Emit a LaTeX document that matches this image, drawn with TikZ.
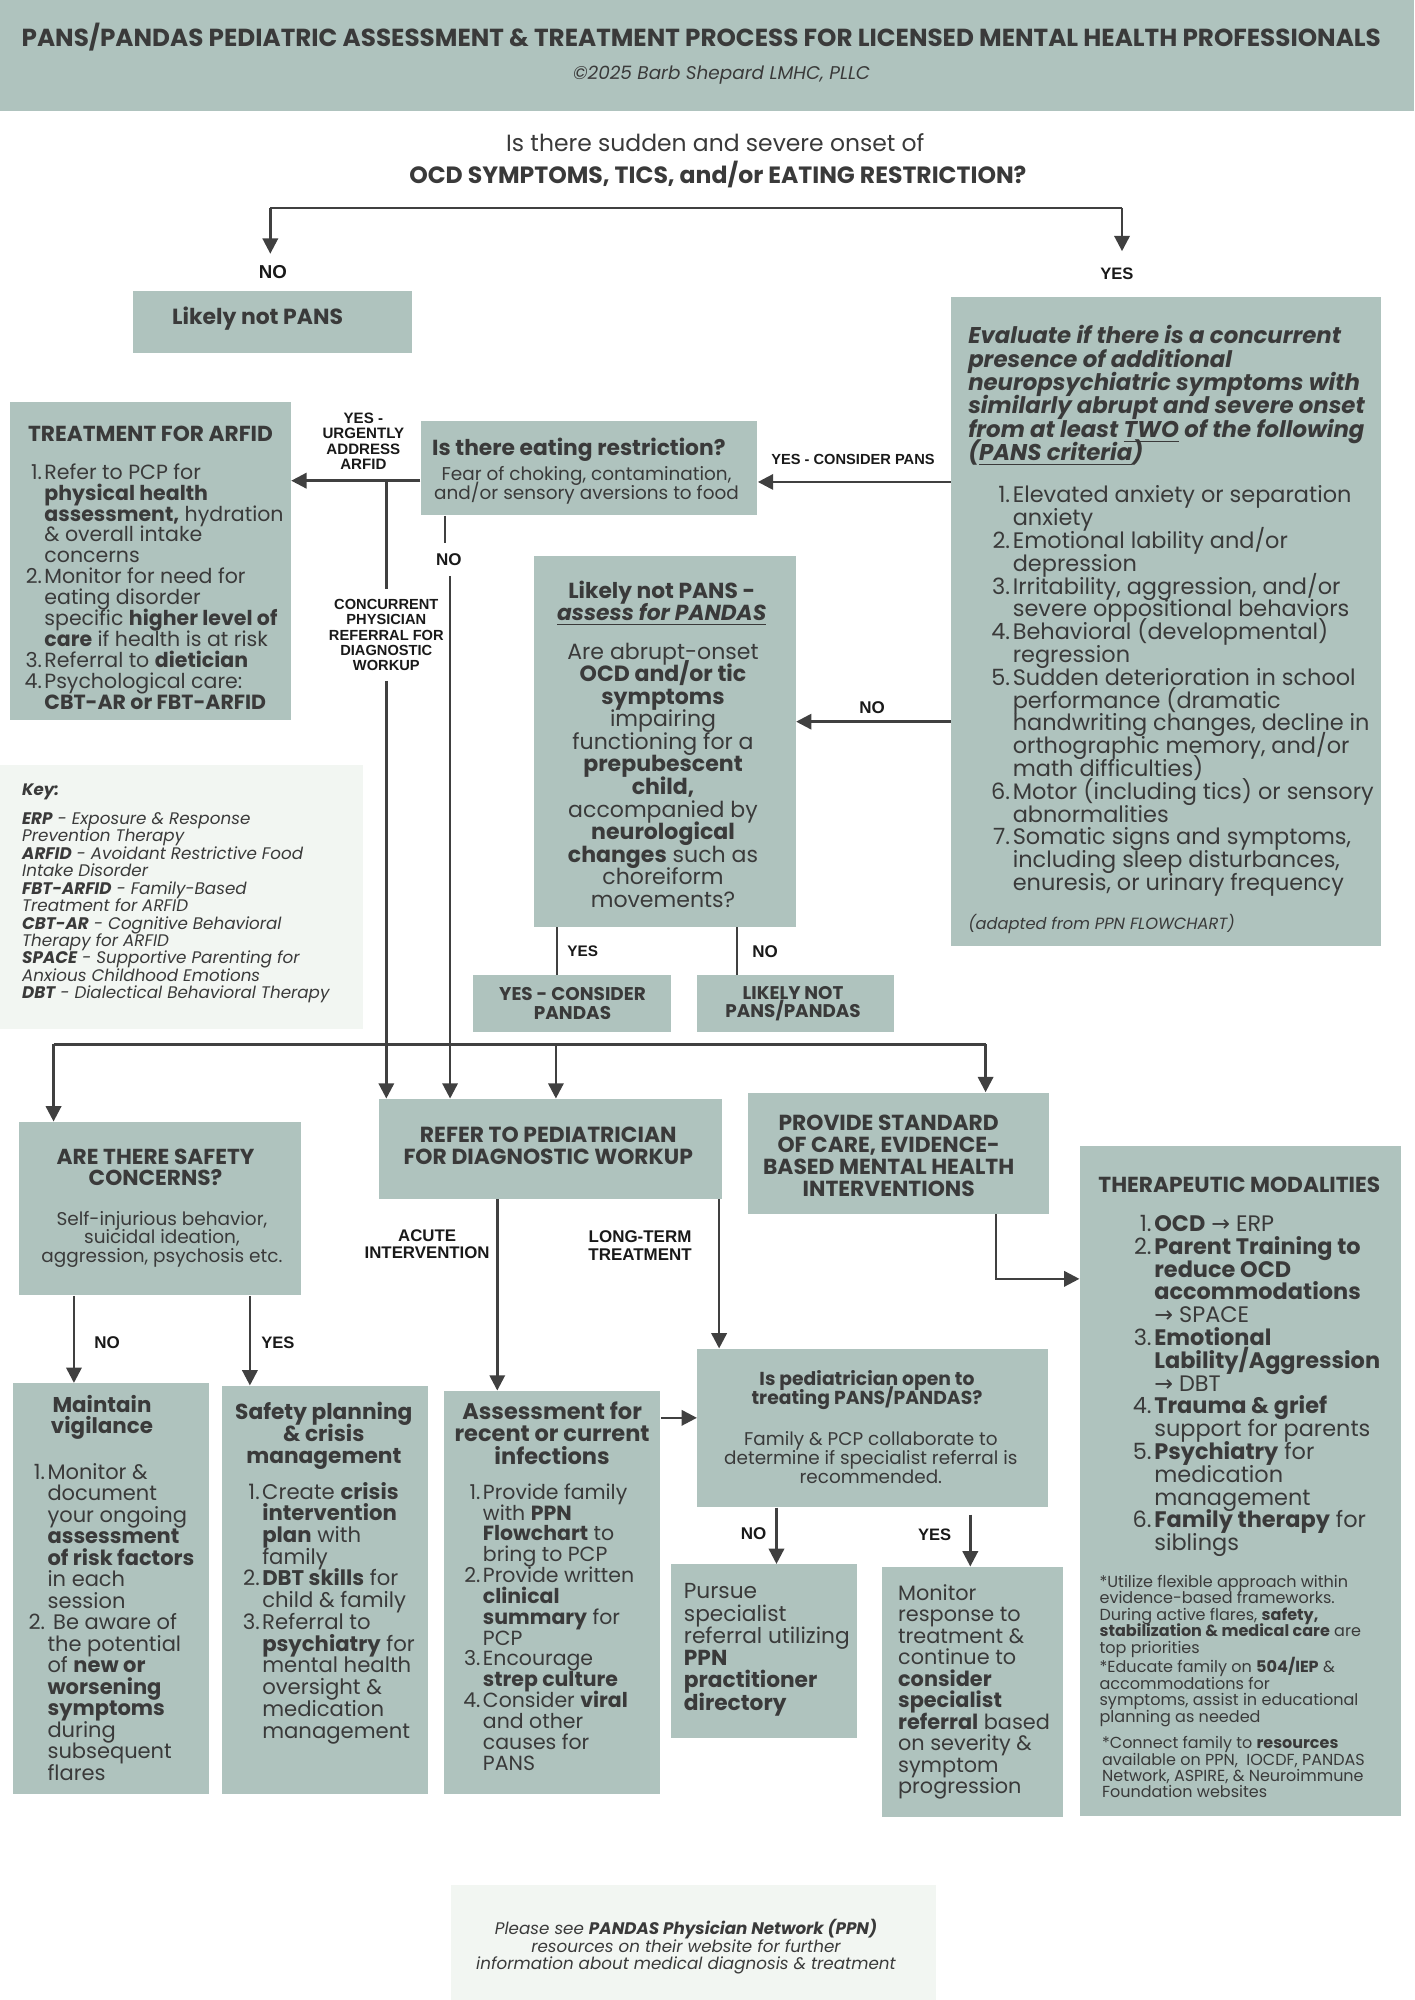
\documentclass[tikz,border=0pt]{standalone}
\usepackage{fontspec}
\setmainfont{Poppins}
\newfontfamily\labfont{Liberation Sans}
\newfontfamily\djv{DejaVu Sans}
\usepackage{graphicx}
\usetikzlibrary{arrows.meta,fit}
\definecolor{boxc}{RGB}{175,195,190}
\definecolor{keyc}{RGB}{242,246,242}
\definecolor{txtc}{RGB}{58,58,58}
\definecolor{labc}{RGB}{25,25,25}
\definecolor{linec}{RGB}{64,64,64}
\newlength\pxu \setlength\pxu{0.5pt}
\newcommand\fs[2]{\fontsize{#1}{#2}\selectfont}
\newcommand\rb[2]{\resizebox{#1\pxu}{!}{#2}}
\newcommand\Lc[1]{\vbox{\lineskiplimit=-100pt\lineskip=0pt\let\\\cr\halign{\hfil##\hfil\cr#1\crcr}}}
\newcommand\Ll[1]{\vbox{\lineskiplimit=-100pt\lineskip=0pt\let\\\cr\halign{##\hfil\cr#1\crcr}}}
\newcommand\Ln[1]{\vbox{\lineskiplimit=-100pt\lineskip=0pt\let\\\cr\halign{\hfil##\hskip.12em&##\hfil\cr#1\crcr}}}
\newcommand\ar{{\djv\char"2192}}
\begin{document}
\begin{tikzpicture}[x=0.5pt,y=-0.5pt,
  box/.style={fill=boxc,draw=none,inner sep=0pt},
  lbox/.style={fill=keyc,draw=none,inner sep=0pt},
  t/.style={inner sep=0pt,text=txtc},
  lb/.style={inner sep=2pt,text=labc,font=\labfont\bfseries},
  conn/.style={draw=linec,line width=1pt},
  arr/.style={conn,-{Triangle[width=6pt,length=6pt]}}]
\useasboundingbox (0,0) rectangle (1109,1568.6);
% ---------- boxes
\node[box,fit={(0,0) (1109,87)}] (head) {};
\node[box,fit={(104,228) (323,277)}] (notB) {};
\node[box,fit={(746,233) (1083,742)}] (evalB) {};
\node[box,fit={(330,330) (594,404)}] (eatB) {};
\node[box,fit={(8,315) (228,565)}] (arfidB) {};
\node[box,fit={(419,436) (624,727)}] (pandB) {};
\node[box,fit={(371,765) (526,809)}] (consB) {};
\node[box,fit={(547,765) (701,809)}] (lnB) {};
\node[lbox,fit={(0,600) (285,807)}] (keyB) {};
\node[box,fit={(15,880) (236,1016)}] (safeB) {};
\node[box,fit={(297,862) (566,940)}] (refB) {};
\node[box,fit={(587,857) (823,952)}] (provB) {};
\node[box,fit={(847,899) (1099,1424)}] (therB) {};
\node[box,fit={(10,1085) (164,1407)}] (mainB) {};
\node[box,fit={(174,1087) (336,1407)}] (planB) {};
\node[box,fit={(348,1091) (518,1407)}] (assB) {};
\node[box,fit={(547,1058) (822,1182)}] (pedB) {};
\node[box,fit={(526,1227) (672,1363)}] (purB) {};
\node[box,fit={(692,1229) (834,1425)}] (monB) {};
\node[lbox,fit={(354,1478) (734,1568.6)}] (footB) {};
% ---------- header texts
\node[t] (title) at (550,29) {\rb{1066}{\fs{9}{10}\bfseries PANS/PANDAS PEDIATRIC ASSESSMENT \& TREATMENT PROCESS FOR LICENSED MENTAL HEALTH PROFESSIONALS}};
\node[t] (sub) at (566,59) {\rb{233}{\fs{7}{8}\itshape ©2025 Barb Shepard LMHC, PLLC}};
\node[t] (q1) at (561,112) {\rb{328}{\fs{9}{10}Is there sudden and severe onset of}};
\node[t] (q2) at (563,137) {\rb{484}{\fs{9}{10}\bfseries OCD SYMPTOMS, TICS, and/or EATING RESTRICTION?}};
% ---------- labels
\node[lb] (no1) at (214,213) {\rb{22}{NO}};
\node[lb] (yes1) at (876,215) {\rb{26}{YES}};
\node[lb] (yesp) at (669,360) {\rb{128}{YES - CONSIDER PANS}};
\node[lb] (urg) at (285,346) {\rb{64}{\fs{6}{6.2}\Lc{YES -\\URGENTLY\\ADDRESS\\ARFID}}};
\node[lb,inner sep=4pt] (conc) at (303,498) {\rb{90}{\fs{6}{6.15}\Lc{CONCURRENT\\PHYSICIAN\\REFERRAL FOR\\DIAGNOSTIC\\WORKUP}}};
\node[lb,inner sep=4pt] (no2) at (352,439) {\rb{20}{NO}};
\node[lb] (no3) at (684,555) {\rb{20}{NO}};
\node[lb] (yes2) at (457,746) {\rb{24}{YES}};
\node[lb] (no4) at (600,746) {\rb{20}{NO}};
\node[lb] (acute) at (335,976) {\rb{98}{\fs{6}{6.1}\Lc{ACUTE\\INTERVENTION}}};
\node[lb] (lterm) at (502,977) {\rb{81}{\fs{6}{6.3}\Lc{LONG-TERM\\TREATMENT}}};
\node[lb] (no5) at (84,1053) {\rb{20}{NO}};
\node[lb] (yes3) at (218,1053) {\rb{26}{YES}};
\node[lb] (no6) at (591,1203) {\rb{20}{NO}};
\node[lb] (yes4) at (733,1204) {\rb{26}{YES}};
% ---------- box texts
\node[t] (notT) at (202,250) {\rb{134}{\fs{8.5}{9}\bfseries Likely not PANS}};
\node[t,anchor=west] (evalT) at (759,310.5) {\rb{311}{\fs{8.6}{8.8}\bfseries\itshape\Ll{Evaluate if there is a concurrent\\presence of additional\\neuropsychiatric symptoms with\\similarly abrupt and severe onset\\from at least \underline{TWO} of the following\\(\underline{PANS criteria})}}};
\node[t,anchor=west] (evalL) at (777,542) {\rb{300}{\fs{8.6}{8.75}\Ln{1.&Elevated anxiety or separation\\&anxiety\\2.&Emotional lability and/or\\&depression\\3.&Irritability, aggression, and/or\\&severe oppositional behaviors\\4.&Behavioral (developmental)\\&regression\\5.&Sudden deterioration in school\\&performance (dramatic\\&handwriting changes, decline in\\&orthographic memory, and/or\\&math difficulties)\\6.&Motor (including tics) or sensory\\&abnormalities\\7.&Somatic signs and symptoms,\\&including sleep disturbances,\\&enuresis, or urinary frequency}}};
\node[t,anchor=west] (adapt) at (759,725) {\rb{209}{\fs{7}{8}\itshape (adapted from PPN FLOWCHART)}};
\node[t] (eatT) at (454,353) {\rb{230}{\fs{8.5}{9}\bfseries Is there eating restriction?}};
\node[t] (eatS) at (460,380.5) {\rb{239}{\fs{7.2}{7.5}\Lc{Fear of choking, contamination,\\and/or sensory aversions to food}}};
\node[t] (arfT) at (118,340) {\rb{192}{\fs{8.5}{9}\bfseries TREATMENT FOR ARFID}};
\node[t,anchor=west] (arfL) at (19,460) {\rb{203}{\fs{7.7}{7.85}\Ln{1.&Refer to PCP for\\&\textbf{physical health}\\&\textbf{assessment,} hydration\\&\& overall intake\\&concerns\\2.&Monitor for need for\\&eating disorder\\&specific \textbf{higher level of}\\&\textbf{care} if health is at risk\\3.&Referral to \textbf{dietician}\\4.&Psychological care:\\&\textbf{CBT-AR or FBT-ARFID}}}};
\node[t] (pandT) at (519,473.5) {\rb{164}{\fs{8.5}{8.5}\bfseries\Lc{Likely not PANS -\\\itshape\underline{assess for PANDAS}}}};
\node[t] (pandL) at (520,608) {\rb{150}{\fs{8.1}{8.3}\Lc{Are abrupt-onset\\\textbf{OCD and/or tic}\\\textbf{symptoms}\\impairing\\functioning for a\\\textbf{prepubescent}\\\textbf{child,}\\accompanied by\\\textbf{neurological}\\\textbf{changes} such as\\choreiform\\movements?}}};
\node[t] (consT) at (449,787) {\rb{115}{\fs{7}{7}\bfseries\Lc{YES - CONSIDER\\PANDAS}}};
\node[t] (lnT) at (622,787) {\rb{106}{\fs{7}{7}\bfseries\Lc{LIKELY NOT\\PANS/PANDAS}}};
\node[t,anchor=west] (keyT) at (17,621) {\rb{29}{\fs{7}{8}\bfseries\itshape Key:}};
\node[t,anchor=west] (keyL) at (17,712) {\rb{241}{\fs{6.2}{6.45}\itshape\Ll{\textbf{ERP} - Exposure \& Response\\Prevention Therapy\\\textbf{ARFID} - Avoidant Restrictive Food\\Intake Disorder\\\textbf{FBT-ARFID} - Family-Based\\Treatment for ARFID\\\textbf{CBT-AR} - Cognitive Behavioral\\Therapy for ARFID\\\textbf{SPACE} - Supportive Parenting for\\Anxious Childhood Emotions\\\textbf{DBT} - Dialectical Behavioral Therapy}}};
\node[t] (safeT) at (122,915.5) {\rb{155}{\fs{8.5}{8.5}\bfseries\Lc{ARE THERE SAFETY\\CONCERNS?}}};
\node[t] (safeS) at (127,972) {\rb{189}{\fs{7}{7.1}\Lc{Self-injurious behavior,\\suicidal ideation,\\aggression, psychosis etc.}}};
\node[t] (refT) at (430,898.5) {\rb{227}{\fs{8.5}{8.5}\bfseries\Lc{REFER TO PEDIATRICIAN\\FOR DIAGNOSTIC WORKUP}}};
\node[t] (provT) at (697,906.5) {\rb{197}{\fs{8.5}{8.5}\bfseries\Lc{PROVIDE STANDARD\\OF CARE, EVIDENCE-\\BASED MENTAL HEALTH\\INTERVENTIONS}}};
\node[t] (therT) at (972,929) {\rb{221}{\fs{8.5}{9}\bfseries THERAPEUTIC MODALITIES}};
\node[t,anchor=west] (therL) at (888,1087) {\rb{194}{\fs{8.7}{8.85}\Ln{1.&\textbf{OCD} \ar{} ERP\\2.&\textbf{Parent Training to}\\&\textbf{reduce OCD}\\&\textbf{accommodations}\\&\ar{} SPACE\\3.&\textbf{Emotional}\\&\textbf{Lability/Aggression}\\&\ar{} DBT\\4.&\textbf{Trauma \& grief}\\&support for parents\\5.&\textbf{Psychiatry} for\\&medication\\&management\\6.&\textbf{Family therapy} for\\&siblings}}};
\node[t,anchor=west] (note1) at (862,1267.5) {\rb{205}{\fs{5.7}{5.85}\Ll{*Utilize flexible approach within\\evidence-based frameworks.\\During active flares, \textbf{safety,}\\\textbf{stabilization \& medical care} are\\top priorities}}};
\node[t,anchor=west] (note2) at (862,1327) {\rb{203}{\fs{5.7}{5.85}\Ll{*Educate family on \textbf{504/IEP} \&\\accommodations for\\symptoms, assist in educational\\planning as needed}}};
\node[t,anchor=west] (note3) at (864,1386) {\rb{206}{\fs{5.7}{5.85}\Ll{*Connect family to \textbf{resources}\\available on PPN,\ \ IOCDF, PANDAS\\Network, ASPIRE, \& Neuroimmune\\Foundation websites}}};
\node[t] (mainT) at (80,1111.5) {\rb{80}{\fs{8.5}{8.5}\bfseries\Lc{Maintain\\vigilance}}};
\node[t,anchor=west] (mainL) at (22,1272) {\rb{130}{\fs{8.2}{8.4}\Ln{1.&Monitor \&\\&document\\&your ongoing\\&\textbf{assessment}\\&\textbf{of risk factors}\\&in each\\&session\\2.&\ Be aware of\\&the potential\\&of \textbf{new or}\\&\textbf{worsening}\\&\textbf{symptoms}\\&during\\&subsequent\\&flares}}};
\node[t] (planT) at (254,1126) {\rb{139}{\fs{8.5}{8.5}\bfseries\Lc{Safety planning\\\& crisis\\management}}};
\node[t,anchor=west] (planL) at (190,1265) {\rb{135}{\fs{8.2}{8.4}\Ln{1.&Create \textbf{crisis}\\&\textbf{intervention}\\&\textbf{plan} with\\&family\\2.&\textbf{DBT skills} for\\&child \& family\\3.&Referral to\\&\textbf{psychiatry} for\\&mental health\\&oversight \&\\&medication\\&management}}};
\node[t] (assT) at (433,1124) {\rb{153}{\fs{8.5}{8.5}\bfseries\Lc{Assessment for\\recent or current\\infections}}};
\node[t,anchor=west] (assL) at (363,1276) {\rb{134}{\fs{8.2}{8.35}\Ln{1.&Provide family\\&with \textbf{PPN}\\&\textbf{Flowchart} to\\&bring to PCP\\2.&Provide written\\&\textbf{clinical}\\&\textbf{summary} for\\&PCP\\3.&Encourage\\&\textbf{strep culture}\\4.&Consider \textbf{viral}\\&and other\\&causes for\\&PANS}}};
\node[t] (pedT) at (680,1090.5) {\rb{181}{\fs{8}{8.2}\bfseries\Lc{Is pediatrician open to\\treating PANS/PANDAS?}}};
\node[t] (pedS) at (683,1143) {\rb{230}{\fs{7}{7.3}\Lc{Family \& PCP collaborate to\\determine if specialist referral is\\recommended.}}};
\node[t,anchor=west] (purT) at (536,1294) {\rb{130}{\fs{8.2}{8.4}\Ll{Pursue\\specialist\\referral utilizing\\\textbf{PPN}\\\textbf{practitioner}\\\textbf{directory}}}};
\node[t,anchor=west] (monT) at (704,1327) {\rb{119}{\fs{8.2}{8.45}\Ll{Monitor\\response to\\treatment \&\\continue to\\\textbf{consider}\\\textbf{specialist}\\\textbf{referral} based\\on severity \&\\symptom\\progression}}};
\node[t] (footT) at (538,1527) {\rb{329}{\fs{6.5}{6.75}\itshape\Lc{Please see \textbf{PANDAS Physician Network (PPN)}\\resources on their website for further\\information about medical diagnosis \& treatment}}};
% ---------- connectors
\coordinate (bL) at (212,163);
\coordinate (bR) at (880,163);
\draw[conn] (bL) -- (bR);
\draw[arr] (bL) -- (bL |- 0,199);
\draw[arr] (bR) -- (bR |- 0,197);
\draw[arr] (evalB.west |- 0,378) -- (eatB.east |- 0,378);
\draw[arr] (eatB.west |- 0,377) -- (arfidB.east |- 0,377);
\draw[conn] (303,377) -- (conc.north);
\draw[arr] (conc.south) -- (refB.north -| conc.south);
\draw[conn] (eatB.south -| 349,0) -- (no2.north -| 349,0);
\draw[arr] (no2.south -| 353,0) -- (refB.north -| 353,0);
\draw[arr] (evalB.west |- 0,566) -- (pandB.east |- 0,566);
\draw[conn] (pandB.south -| 437,0) -- (consB.north -| 437,0);
\draw[conn] (pandB.south -| 578,0) -- (lnB.north -| 578,0);
\coordinate (busL) at (42,819);
\coordinate (busR) at (773,819);
\draw[conn] (busL) -- (busR);
\draw[arr] (busL) -- (safeB.north -| busL);
\draw[arr] (436,819) -- (refB.north -| 436,0);
\draw[arr] (busR) -- (provB.north -| busR);
\draw[arr] (provB.south -| 781,0) -- (781,1003) -- (therB.west |- 0,1003);
\draw[arr] (refB.south -| 390,0) -- (assB.north -| 390,0);
\draw[arr] (refB.south -| 564,0) -- (pedB.north -| 564,0);
\draw[arr] (safeB.south -| 58,0) -- (mainB.north -| 58,0);
\draw[arr] (safeB.south -| 196,0) -- (planB.north -| 196,0);
\draw[arr] (assB.east |- 0,1112) -- (pedB.west |- 0,1112);
\draw[arr] (pedB.south -| 609,0) -- (purB.north -| 609,0);
\draw[arr] (761,1188) -- (monB.north -| 761,0);
\end{tikzpicture}
\end{document}
